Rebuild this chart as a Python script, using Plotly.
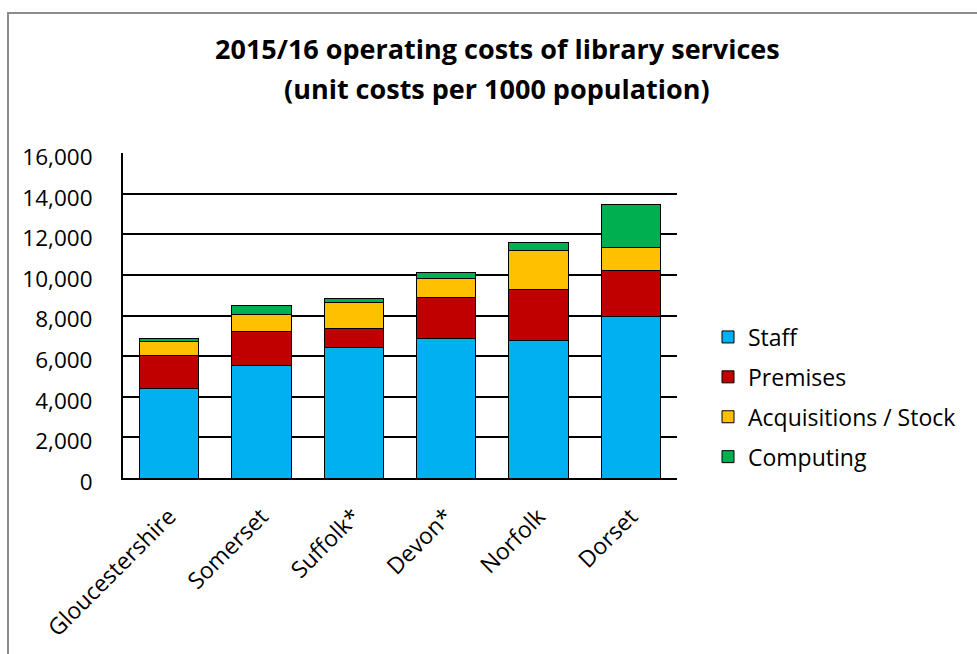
import plotly.graph_objects as go

# Library service operating costs, 2015/16, per 1000 population
councils = ["Gloucestershire", "Somerset", "Suffolk*", "Devon*", "Norfolk", "Dorset"]
staff = [4430, 5540, 6410, 6870, 6770, 7970]
premises = [1620, 1655, 935, 2000, 2525, 2225]
acquisitions = [660, 835, 1280, 965, 1885, 1130]
computing = [180, 445, 200, 260, 395, 2150]

series = [
    ("Staff", staff, "#00B0F0"),
    ("Premises", premises, "#C00000"),
    ("Acquisitions / Stock", acquisitions, "#FFC000"),
    ("Computing", computing, "#00B050"),
]

FONT = "Open Sans"

fig = go.Figure()
for name, values, colour in series:
    fig.add_trace(go.Bar(
        x=councils, y=values, name=name, legendgroup=name,
        marker=dict(color=colour, line=dict(color="black", width=1)),
    ))

W, H = 977, 654
L, R, T, B = 123, 977 - 677, 153, 654 - 478
pw, ph = W - L - R, H - T - B


def px(x):
    return (x - L) / pw


def py(y):
    return (H - B - y) / ph


fig.update_layout(
    width=W, height=H,
    margin=dict(l=L, r=R, t=T, b=B, pad=0),
    barmode="stack", bargap=0.36,
    paper_bgcolor="white", plot_bgcolor="white",
    font=dict(family=FONT, size=22, color="black"),
    showlegend=True,
    legend=dict(
        x=px(708), y=py(397), xanchor="left", yanchor="middle",
        traceorder="grouped", tracegroupgap=7,
        font=dict(size=23), itemwidth=30, bgcolor="rgba(0,0,0,0)",
    ),
    xaxis=dict(
        range=[-0.5, 5.5], tickangle=-45, showgrid=False,
        showline=True, linecolor="black", linewidth=2,
        ticks="", tickfont=dict(size=23), ticklabelstandoff=14,
    ),
    yaxis=dict(
        range=[0, 16000], dtick=2000, tickformat=",d",
        showgrid=True, gridcolor="black", gridwidth=1.5,
        showline=True, linecolor="black", linewidth=2,
        zeroline=False, ticks="", ticklabelstandoff=24,
        ticklabelshift=4, tickfont=dict(size=22.5),
    ),
    shapes=[dict(
        type="rect", xref="paper", yref="paper",
        x0=px(8), x1=px(990), y0=py(670), y1=py(13),
        line=dict(color="#8c8c8c", width=2), fillcolor="rgba(0,0,0,0)",
        layer="below",
    )],
    annotations=[
        dict(text="<b>2015/16 operating costs of library services</b>",
             xref="paper", yref="paper", x=px(497), y=py(48),
             xanchor="center", yanchor="middle", showarrow=False,
             font=dict(size=27)),
        dict(text="<b>(unit costs per 1000 population)</b>",
             xref="paper", yref="paper", x=px(497), y=py(88),
             xanchor="center", yanchor="middle", showarrow=False,
             font=dict(size=27)),
    ],
)

fig.write_html("out.html")
